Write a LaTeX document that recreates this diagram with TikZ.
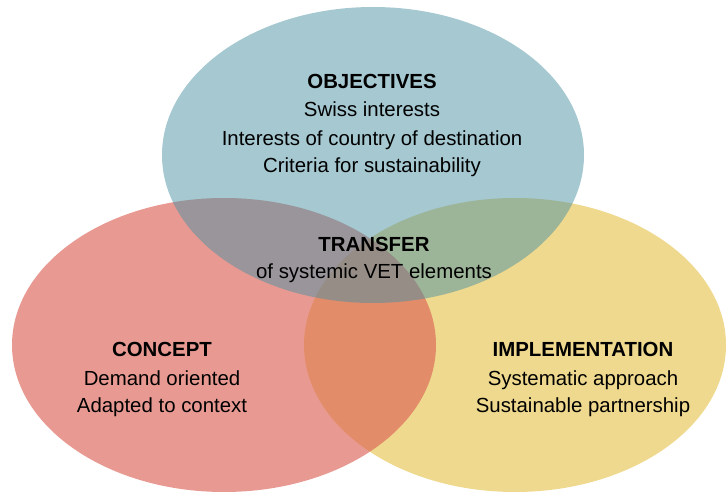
\documentclass[tikz,border=0pt]{standalone}
\usepackage{fontspec}
\setmainfont{Liberation Sans}
\definecolor{venyellow}{RGB}{239,217,142}
\definecolor{venred}{RGB}{220,100,87}
\definecolor{venblue}{RGB}{75,145,163}
\tikzset{
  head/.style={anchor=base, inner sep=0pt, font=\fontsize{20.4}{24}\selectfont\bfseries},
  line/.style={anchor=base, inner sep=0pt, font=\fontsize{20.4}{24}\selectfont},
}
\begin{document}
\begin{tikzpicture}[x=1pt,y=-1pt]
\useasboundingbox (0,0) rectangle (726,494);
% ellipses
\fill[venyellow] (515,345) ellipse [x radius=211pt, y radius=147pt];
\fill[venred, fill opacity=0.65] (224,345) ellipse [x radius=212pt, y radius=147pt];
\fill[venblue, fill opacity=0.5] (373,155) ellipse [x radius=211pt, y radius=148pt];
% objectives
\node[head] (obj) at (372,89) {OBJECTIVES};
\node[line] (obj1) at (372,117) {Swiss interests};
\node[line] (obj2) at (372,146) {Interests of country of destination};
\node[line] (obj3) at (372,173) {Criteria for sustainability};
% transfer
\node[head] (tra) at (374,252) {TRANSFER};
\node[line] (tra1) at (374,279) {of systemic VET elements};
% concept
\node[head] (con) at (162,357) {CONCEPT};
\node[line] (con1) at (162,385) {Demand oriented};
\node[line] (con2) at (162,413) {Adapted to context};
% implementation
\node[head] (imp) at (583,357) {IMPLEMENTATION};
\node[line] (imp1) at (583,385) {Systematic approach};
\node[line] (imp2) at (583,413) {Sustainable partnership};
\end{tikzpicture}
\end{document}
